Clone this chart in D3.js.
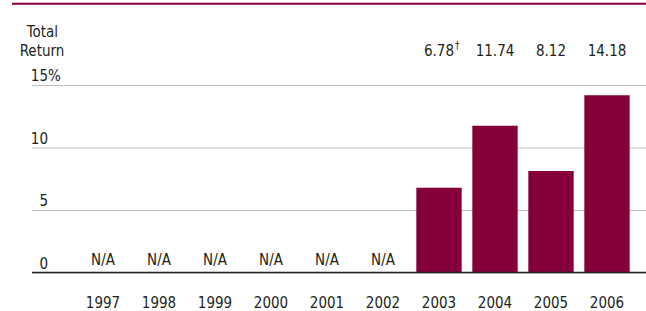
<!DOCTYPE html>
<html>
<head>
<meta charset="utf-8">
<script src="https://cdn.jsdelivr.net/npm/d3@7"></script>
<style>
  body { margin: 0; background: #fff; }
  svg text { font-family: "DejaVu Sans Condensed", "DejaVu Sans", sans-serif; font-stretch: condensed; font-size: 15px; fill: #231f20; }
</style>
</head>
<body>
<div id="chart"></div>
<script>
var years = ["1997", "1998", "1999", "2000", "2001", "2002", "2003", "2004", "2005", "2006"];
var returns = [null, null, null, null, null, null, 6.78, 11.74, 8.12, 14.18]; // null = N/A
var notes = ["", "", "", "", "", "", "\u2020", "", "", ""];
var yTicks = [0, 5, 10, 15];

var W = 646, H = 311;
var maroon = "#85003a";

var svg = d3.select("#chart").append("svg")
    .attr("width", W)
    .attr("height", H);

var x = d3.scaleBand()
    .domain(years)
    .range([75, 635])
    .paddingInner(0.19)
    .paddingOuter(0.095);

var y = d3.scaleLinear()
    .domain([0, 15])
    .range([272.5, 85]);

// rule across the top
svg.append("line")
    .attr("x1", 12).attr("x2", W)
    .attr("y1", 3.8).attr("y2", 3.8)
    .attr("stroke", maroon)
    .attr("stroke-width", 2);

// gridlines + tick labels
var yAxis = svg.append("g")
    .attr("transform", "translate(32,0)")
    .call(d3.axisLeft(y).tickValues(yTicks).tickSize(-(W - 32)).tickFormat(d3.format("d")));

yAxis.select(".domain").remove();
yAxis.selectAll(".tick line")
    .attr("stroke", "#bdbdbd")
    .attr("stroke-width", 1.2);
yAxis.selectAll(".tick text")
    .attr("x", 16)
    .attr("dy", -4.5)
    .attr("text-anchor", "end")
    .attr("font-family", null)
    .attr("font-size", null);
yAxis.selectAll(".tick").filter(function(d){ return d == 15; })
    .append("text")
    .attr("x", 16)
    .attr("dy", -4.5)
    .attr("text-anchor", "start")
    .text("%");

// bars
svg.selectAll(".bar")
    .data(years.filter(function(d, i){ return returns[i] != null; }))
    .enter().append("rect")
    .attr("class", "bar")
    .attr("x", function(d){ return x(d); })
    .attr("width", x.bandwidth())
    .attr("y", function(d){ return y(returns[years.indexOf(d)]); })
    .attr("height", function(d){ return y(0) - y(returns[years.indexOf(d)]); })
    .attr("fill", maroon);

// zero line
svg.append("line")
    .attr("x1", 32).attr("x2", W)
    .attr("y1", y(0)).attr("y2", y(0))
    .attr("stroke", "#231f20")
    .attr("stroke-width", 1.6);

// year labels
var xAxis = svg.append("g")
    .attr("transform", "translate(0," + y(0) + ")")
    .call(d3.axisBottom(x).tickSize(0));
xAxis.select(".domain").remove();
xAxis.selectAll(".tick text")
    .attr("y", 35.5)
    .attr("dy", 0)
    .attr("font-family", null)
    .attr("font-size", null);

// N/A markers
years.forEach(function(d, i){
    if (returns[i] == null) {
        svg.append("text")
            .attr("x", x(d) + x.bandwidth() / 2)
            .attr("y", 265)
            .attr("text-anchor", "middle")
            .text("N/A");
    }
});

// value labels across the top
years.forEach(function(d, i){
    if (returns[i] == null) return;
    var cx = x(d) + x.bandwidth() / 2;
    var t = svg.append("text")
        .attr("x", cx)
        .attr("y", 55.5)
        .attr("text-anchor", "middle")
        .text(d3.format(".2f")(returns[i]));
    if (notes[i]) {
        var w = t.node().getComputedTextLength();
        svg.append("text")
            .attr("x", cx + w / 2 + 1)
            .attr("y", 49)
            .style("font-size", "10px")
            .text(notes[i]);
    }
});

// axis title
svg.append("text")
    .attr("x", 42.5).attr("y", 36.7)
    .attr("text-anchor", "middle")
    .text("Total");
svg.append("text")
    .attr("x", 42).attr("y", 55.7)
    .attr("text-anchor", "middle")
    .text("Return");
</script>
</body>
</html>
